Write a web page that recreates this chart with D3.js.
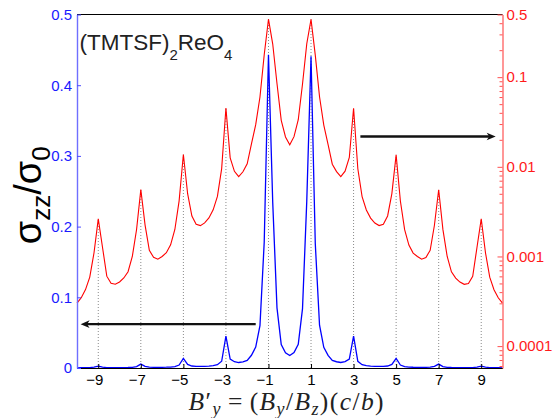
<!DOCTYPE html>
<html>
<head>
<meta charset="utf-8">
<script src="https://cdn.jsdelivr.net/npm/d3@7"></script>
<style>
  body { margin: 0; background: #fff; }
  svg { display: block; }
</style>
</head>
<body>
<script>
// field values B'_y (sample positions)
const bField = [
  -10.0, -9.8, -9.6, -9.4, -9.2, -9.0, -8.8, -8.6, -8.4, -8.2,
  -8.0, -7.8, -7.6, -7.4, -7.2, -7.0, -6.8, -6.6, -6.4, -6.2,
  -6.0, -5.8, -5.6, -5.4, -5.2, -5.0, -4.8, -4.6, -4.4, -4.2,
  -4.0, -3.8, -3.6, -3.4, -3.2, -3.0, -2.8, -2.6, -2.4, -2.2,
  -2.0, -1.8, -1.6, -1.4, -1.2, -1.0, -0.8, -0.6, -0.4, -0.2,
  0.0, 0.2, 0.4, 0.6, 0.8, 1.0, 1.2, 1.4, 1.6, 1.8,
  2.0, 2.2, 2.4, 2.6, 2.8, 3.0, 3.2, 3.4, 3.6, 3.8,
  4.0, 4.2, 4.4, 4.6, 4.8, 5.0, 5.2, 5.4, 5.6, 5.8,
  6.0, 6.2, 6.4, 6.6, 6.8, 7.0, 7.2, 7.4, 7.6, 7.8,
  8.0, 8.2, 8.4, 8.6, 8.8, 9.0, 9.2, 9.4, 9.6, 9.8,
  10.0
];
// sigma_zz / sigma_0 (same series, drawn linear in blue and log in red)
const sigma = [
  0.000302, 0.000347, 0.000427, 0.000589, 0.00110, 0.00263, 0.00126, 0.000603, 0.000501, 0.000490,
  0.000519, 0.000575, 0.000676, 0.00100, 0.00200, 0.00556, 0.00224, 0.00117, 0.000977, 0.000933,
  0.00100, 0.00110, 0.00135, 0.00200, 0.00417, 0.0137, 0.00501, 0.00282, 0.00229, 0.00221,
  0.00237, 0.00269, 0.00331, 0.00468, 0.00955, 0.0452, 0.0126, 0.00891, 0.00776, 0.00880,
  0.0108, 0.0180, 0.0295, 0.0600, 0.178, 0.443, 0.234, 0.0851, 0.0330, 0.0215,
  0.0176, 0.0217, 0.0335, 0.0840, 0.236, 0.441, 0.176, 0.0605, 0.0292, 0.0178,
  0.0107, 0.00885, 0.00778, 0.00895, 0.0127, 0.0450, 0.00950, 0.00466, 0.00330, 0.00268,
  0.00236, 0.00221, 0.00229, 0.00283, 0.00503, 0.0136, 0.00415, 0.00199, 0.00134, 0.00109,
  0.00100, 0.000931, 0.000975, 0.00117, 0.00223, 0.00555, 0.00199, 0.00100, 0.000674, 0.000574,
  0.000518, 0.000489, 0.000500, 0.000602, 0.00126, 0.00263, 0.00110, 0.000588, 0.000426, 0.000346,
  0.000301
];
const oddTicks = [-9, -7, -5, -3, -1, 1, 3, 5, 7, 9];
const leftTicks = [0, 0.1, 0.2, 0.3, 0.4, 0.5];
const rightMajor = [0.0001, 0.001, 0.01, 0.1, 0.5];
const rightLabels = ["0.0001", "0.001", "0.01", "0.1", "0.5"];
const rightMinor = [
  0.00006, 0.00007, 0.00008, 0.00009,
  0.0002, 0.0003, 0.0004, 0.0005, 0.0006, 0.0007, 0.0008, 0.0009,
  0.002, 0.003, 0.004, 0.005, 0.006, 0.007, 0.008, 0.009,
  0.02, 0.03, 0.04, 0.05, 0.06, 0.07, 0.08, 0.09,
  0.2, 0.3, 0.4
];
// arrows pointing to the axis each curve belongs to
const arrowLeft = {from: -1.6, to: -9.83, level: 0.062};
const arrowRight = {from: 3.32, to: 9.68, level: 0.0218};

const W = 554, H = 418;
const margin = {top: 14.5, right: 51.5, bottom: 50, left: 77};
const x0 = margin.left, x1 = W - margin.right;
const y0 = H - margin.bottom, y1 = margin.top;

const x = d3.scaleLinear().domain([-10, 10]).range([x0, x1]);
const yL = d3.scaleLinear().domain([0, 0.5]).range([y0, y1]);
const yR = d3.scaleLog().domain([5.7e-5, 0.5]).range([y0, y1]);

const svg = d3.select("body").append("svg")
    .attr("width", W)
    .attr("height", H)
    .style("font-family", "'Liberation Sans', Arial, sans-serif");

const peakOf = b => sigma[bField.findIndex(v => Math.abs(v - b) < 1e-9)];

// dotted guides from the axis up to each red peak
svg.append("g")
    .selectAll("line")
    .data(oddTicks)
    .join("line")
        .attr("x1", d => x(d))
        .attr("x2", d => x(d))
        .attr("y1", y0)
        .attr("y2", d => yR(peakOf(d)))
        .attr("stroke", "#8a8a8a")
        .attr("stroke-width", 1)
        .attr("stroke-dasharray", "1,2");

const blueLine = d3.line()
    .x((d, i) => x(bField[i]))
    .y(d => yL(d));
const redLine = d3.line()
    .x((d, i) => x(bField[i]))
    .y(d => yR(d));

svg.append("path")
    .datum(sigma)
    .attr("fill", "none")
    .attr("stroke", "#0000ff")
    .attr("stroke-width", 1.3)
    .attr("d", blueLine);

svg.append("path")
    .datum(sigma)
    .attr("fill", "none")
    .attr("stroke", "#ff0000")
    .attr("stroke-width", 1.1)
    .attr("d", redLine);

// top border
svg.append("line")
    .attr("x1", x0).attr("x2", x1)
    .attr("y1", y1).attr("y2", y1)
    .attr("stroke", "#000")
    .attr("stroke-width", 1.2);

// bottom axis
const gx = svg.append("g")
    .attr("transform", `translate(0, ${y0})`)
    .call(d3.axisBottom(x)
        .tickValues(oddTicks)
        .tickSize(-4)
        .tickSizeOuter(0)
        .tickPadding(6)
        .tickFormat(d => d < 0 ? "\u2212" + Math.abs(d) : String(d)));
gx.select(".domain").attr("stroke", "#000").attr("stroke-width", 1.2);
gx.selectAll(".tick line").attr("stroke", "#000");
gx.selectAll(".tick text")
    .attr("font-size", 15)
    .attr("font-family", "'Liberation Sans', Arial, sans-serif")
    .attr("fill", "#000")
    .attr("dx", d => d < 0 ? -4 : 0);

// left (linear, blue) axis
const gl = svg.append("g")
    .attr("transform", `translate(${x0}, 0)`)
    .call(d3.axisLeft(yL)
        .tickValues(leftTicks)
        .tickSize(-4)
        .tickSizeOuter(0)
        .tickPadding(5)
        .tickFormat(d => d === 0 ? "0" : d3.format(".1f")(d)));
gl.select(".domain").attr("stroke", "#6f6fff").attr("stroke-width", 1.4);
gl.selectAll(".tick line").attr("stroke", "#4d4dff");
gl.selectAll(".tick text")
    .attr("font-size", 15)
    .attr("font-family", "'Liberation Sans', Arial, sans-serif")
    .attr("fill", "#1a1aff");

// right (log, red) axis
const gr = svg.append("g")
    .attr("transform", `translate(${x1}, 0)`)
    .call(d3.axisRight(yR)
        .tickValues(rightMinor)
        .tickSize(-3)
        .tickSizeOuter(0)
        .tickFormat(""));
gr.select(".domain").attr("stroke", "#ff6b6b").attr("stroke-width", 1.4);
gr.selectAll(".tick line").attr("stroke", "#ff5050");

const grm = svg.append("g")
    .attr("transform", `translate(${x1}, 0)`)
    .call(d3.axisRight(yR)
        .tickValues(rightMajor)
        .tickSize(-5)
        .tickSizeOuter(0)
        .tickPadding(4)
        .tickFormat((d, i) => rightLabels[i]));
grm.select(".domain").remove();
grm.selectAll(".tick line").attr("stroke", "#ff5050");
grm.selectAll(".tick text")
    .attr("font-size", 15)
    .attr("font-family", "'Liberation Sans', Arial, sans-serif")
    .attr("fill", "#ff1a1a");

// arrows
function drawArrow(x0a, x1a, yy) {
    const dir = x1a > x0a ? 1 : -1;
    svg.append("line")
        .attr("x1", x0a).attr("x2", x1a - dir * 6)
        .attr("y1", yy).attr("y2", yy)
        .attr("stroke", "#111")
        .attr("stroke-width", 2.4);
    svg.append("path")
        .attr("d", "M0,0 L-9,-3.8 L-6.5,0 L-9,3.8 Z")
        .attr("transform", `translate(${x1a}, ${yy}) scale(${dir}, 1)`)
        .attr("fill", "#111");
}
drawArrow(x(arrowLeft.from), x(arrowLeft.to), yL(arrowLeft.level));
drawArrow(x(arrowRight.from), x(arrowRight.to), yR(arrowRight.level));

// compound label
const title = svg.append("text")
    .attr("x", x0 + 2.5)
    .attr("y", 50)
    .attr("font-size", 22.5)
    .attr("fill", "#222");
title.append("tspan").text("(TMTSF)");
title.append("tspan").attr("font-size", 15).attr("dy", 10).text("2");
title.append("tspan").attr("dy", -10).text("ReO");
title.append("tspan").attr("font-size", 15).attr("dy", 10).text("4");

// y label
const yl = svg.append("text")
    .attr("transform", `translate(41, ${(y0 + y1) / 2 + 4}) rotate(-90)`)
    .attr("text-anchor", "middle")
    .attr("font-size", 38)
    .attr("fill", "#000");
yl.append("tspan").text("\u03c3");
yl.append("tspan").attr("font-size", 26).attr("dy", 9).text("zz");
yl.append("tspan").attr("dy", -9).text("/\u03c3");
yl.append("tspan").attr("font-size", 26).attr("dy", 9).text("0");

// x label
const xl = svg.append("text")
    .attr("x", (x0 + x1) / 2 - 3)
    .attr("y", 410)
    .attr("text-anchor", "middle")
    .attr("font-family", "'Liberation Serif', 'Times New Roman', serif")
    .attr("font-size", 25.5)
    .attr("letter-spacing", 1.4)
    .attr("fill", "#222");
const parts = [
    ["B", "i", 0, 0], ["\u2032", "n", 0, 0], ["y", "s", 5, 0], ["=", "n", -5, 6],
    ["(", "n", 0, 6], ["B", "i", 0, 0], ["y", "s", 5, 0], ["/", "n", -5, 0],
    ["B", "i", 0, 0], ["z", "s", 5, 0], [")(", "n", -5, 0], ["c", "i", 0, 0],
    ["/", "n", 0, 0], ["b", "i", 0, 0], [")", "n", 0, 0]
];
parts.forEach(([t, k, dy, dx]) => {
    const ts = xl.append("tspan").text(t).attr("dy", dy).attr("dx", dx);
    if (k !== "n") ts.attr("font-style", "italic");
    if (k === "s") ts.attr("font-size", 18);
});
</script>
</body>
</html>
